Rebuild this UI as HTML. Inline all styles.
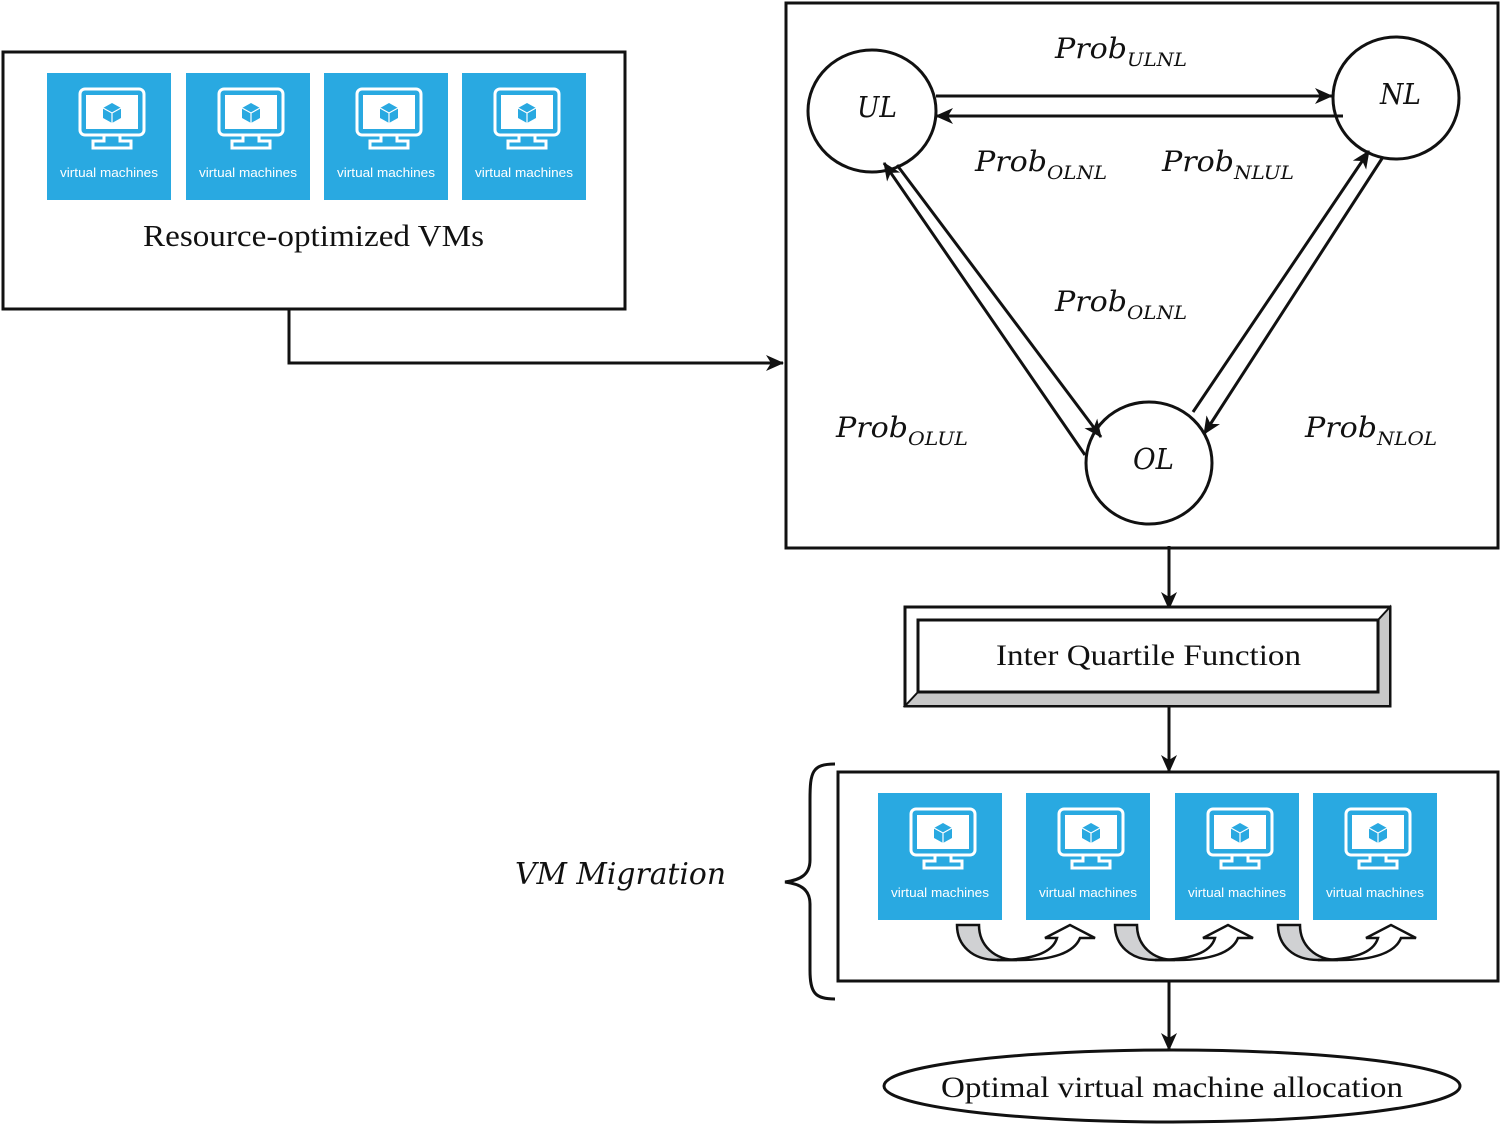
<!DOCTYPE html>
<html><head><meta charset="utf-8"><style>
html,body{margin:0;padding:0;background:#fff;}
svg{display:block}
.s{font-family:"Liberation Serif",serif;fill:#111}
.m{font-family:"DejaVu Serif","Liberation Serif",serif;font-style:italic;fill:#111}
.v{font-family:"Liberation Sans",sans-serif;fill:#fff;font-size:12.5px}
</style></head><body>
<svg width="1500" height="1124" viewBox="0 0 1500 1124" xmlns="http://www.w3.org/2000/svg">
<defs>
<marker id="a" markerWidth="18" markerHeight="16" refX="17" refY="8" orient="auto" markerUnits="userSpaceOnUse">
<path d="M0,0 L18,8 L0,16 L5,8 z" fill="#111"/></marker>
<g id="vm">
<rect x="0" y="0" width="124" height="127" fill="#29a9e1"/>
<rect x="33" y="16" width="64" height="46" rx="5" fill="none" stroke="#fff" stroke-width="3"/>
<rect x="39" y="22" width="52" height="34" fill="#fff"/>
<path d="M65,30 l9,5 v10 l-9,5 l-9,-5 v-10z" fill="#29a9e1"/>
<path d="M56,35 l9,5 l9,-5 M65,40 v10" stroke="#fff" stroke-width="1.2" fill="none"/>
<path d="M57,62 v6 h-11 v7 h38 v-7 h-11 v-6" fill="none" stroke="#fff" stroke-width="3"/>
</g>
<g id="mig">
<path d="M0,0 h22 c0,20 15,35 38,35 h-20 c-25,0 -40,-15 -40,-35z" fill="#d0d1d3" stroke="#111" stroke-width="2.5"/>
<path d="M40,35 c30,0 55,-5 60,-22 h-12 l25,-13 l25,13 h-15 c-6,15 -28,22 -60,22 z" fill="#fff" stroke="#111" stroke-width="2.5"/>
</g>
</defs>
<rect x="3" y="52" width="622" height="257" fill="none" stroke="#111" stroke-width="3"/>
<use href="#vm" x="47" y="73"/><use href="#vm" x="186" y="73"/><use href="#vm" x="324" y="73"/><use href="#vm" x="462" y="73"/>
<text class="v" x="109" y="177" text-anchor="middle" textLength="98" lengthAdjust="spacingAndGlyphs">virtual machines</text>
<text class="v" x="248" y="177" text-anchor="middle" textLength="98" lengthAdjust="spacingAndGlyphs">virtual machines</text>
<text class="v" x="386" y="177" text-anchor="middle" textLength="98" lengthAdjust="spacingAndGlyphs">virtual machines</text>
<text class="v" x="524" y="177" text-anchor="middle" textLength="98" lengthAdjust="spacingAndGlyphs">virtual machines</text>
<text class="s" x="143" y="246" font-size="31" textLength="341" lengthAdjust="spacingAndGlyphs">Resource-optimized VMs</text>
<path d="M289,309 V363 H783" fill="none" stroke="#111" stroke-width="3" marker-end="url(#a)"/>
<rect x="786" y="3" width="712" height="545" fill="none" stroke="#111" stroke-width="3"/>
<ellipse cx="872" cy="111" rx="64" ry="61" fill="#fff" stroke="#111" stroke-width="3"/>
<ellipse cx="1396" cy="98" rx="63" ry="61" fill="#fff" stroke="#111" stroke-width="3"/>
<ellipse cx="1149" cy="463" rx="63" ry="61" fill="#fff" stroke="#111" stroke-width="3"/>
<text class="m" x="857" y="117" font-size="29" textLength="40" lengthAdjust="spacingAndGlyphs">UL</text>
<text class="m" x="1380" y="104" font-size="29" textLength="41" lengthAdjust="spacingAndGlyphs">NL</text>
<text class="m" x="1133" y="469" font-size="29" textLength="41" lengthAdjust="spacingAndGlyphs">OL</text>
<g stroke="#111" stroke-width="3" fill="none">
<line x1="936" y1="96" x2="1332" y2="96" marker-end="url(#a)"/>
<line x1="1343" y1="116" x2="936" y2="116" marker-end="url(#a)"/>
<line x1="897" y1="165" x2="1101" y2="437" marker-end="url(#a)"/>
<line x1="1085" y1="455" x2="884" y2="163" marker-end="url(#a)"/>
<line x1="1383" y1="157" x2="1204" y2="434" marker-end="url(#a)"/>
<line x1="1193" y1="412" x2="1369" y2="151" marker-end="url(#a)"/>
</g>
<g class="m" font-size="28">
<text x="1055" y="58"><tspan textLength="72" lengthAdjust="spacingAndGlyphs">Prob</tspan><tspan font-size="19" dy="8" textLength="60" lengthAdjust="spacingAndGlyphs">ULNL</tspan></text>
<text x="975" y="171"><tspan textLength="72" lengthAdjust="spacingAndGlyphs">Prob</tspan><tspan font-size="19" dy="8" textLength="60" lengthAdjust="spacingAndGlyphs">OLNL</tspan></text>
<text x="1162" y="171"><tspan textLength="72" lengthAdjust="spacingAndGlyphs">Prob</tspan><tspan font-size="19" dy="8" textLength="60" lengthAdjust="spacingAndGlyphs">NLUL</tspan></text>
<text x="1055" y="311"><tspan textLength="72" lengthAdjust="spacingAndGlyphs">Prob</tspan><tspan font-size="19" dy="8" textLength="60" lengthAdjust="spacingAndGlyphs">OLNL</tspan></text>
<text x="836" y="437"><tspan textLength="72" lengthAdjust="spacingAndGlyphs">Prob</tspan><tspan font-size="19" dy="8" textLength="60" lengthAdjust="spacingAndGlyphs">OLUL</tspan></text>
<text x="1305" y="437"><tspan textLength="72" lengthAdjust="spacingAndGlyphs">Prob</tspan><tspan font-size="19" dy="8" textLength="60" lengthAdjust="spacingAndGlyphs">NLOL</tspan></text>
</g>
<line x1="1169" y1="546" x2="1169" y2="609" stroke="#111" stroke-width="3" marker-end="url(#a)"/>
<rect x="905" y="607" width="485" height="99" fill="#fff" stroke="#111" stroke-width="3"/>
<path d="M918,692 L905,706 H1390 V607 L1378,620 V692z" fill="#c8c8c8" stroke="#111" stroke-width="2"/>
<rect x="918" y="620" width="460" height="72" fill="#fff" stroke="#111" stroke-width="3"/>
<text class="s" x="996" y="665" font-size="30" textLength="305" lengthAdjust="spacingAndGlyphs">Inter Quartile Function</text>
<line x1="1169" y1="706" x2="1169" y2="772" stroke="#111" stroke-width="3" marker-end="url(#a)"/>
<rect x="838" y="772" width="660" height="209" fill="none" stroke="#111" stroke-width="3"/>
<use href="#vm" x="878" y="793"/><use href="#vm" x="1026" y="793"/><use href="#vm" x="1175" y="793"/><use href="#vm" x="1313" y="793"/>
<text class="v" x="940" y="897" text-anchor="middle" textLength="98" lengthAdjust="spacingAndGlyphs">virtual machines</text>
<text class="v" x="1088" y="897" text-anchor="middle" textLength="98" lengthAdjust="spacingAndGlyphs">virtual machines</text>
<text class="v" x="1237" y="897" text-anchor="middle" textLength="98" lengthAdjust="spacingAndGlyphs">virtual machines</text>
<text class="v" x="1375" y="897" text-anchor="middle" textLength="98" lengthAdjust="spacingAndGlyphs">virtual machines</text>
<use href="#mig" x="957" y="925"/><use href="#mig" x="1115" y="925"/><use href="#mig" x="1278" y="925"/>
<path d="M835,764 C812,764 810,772 810,800 V860 C810,875 800,880 785,882 C800,884 810,889 810,904 V970 C810,993 815,999 835,999" fill="none" stroke="#111" stroke-width="3"/>
<text class="m" x="515" y="884" font-size="30" textLength="211" lengthAdjust="spacingAndGlyphs">VM Migration</text>
<line x1="1169" y1="981" x2="1169" y2="1050" stroke="#111" stroke-width="3" marker-end="url(#a)"/>
<ellipse cx="1172" cy="1086" rx="288" ry="36" fill="#fff" stroke="#111" stroke-width="3"/>
<text class="s" x="941" y="1097" font-size="30" textLength="462" lengthAdjust="spacingAndGlyphs">Optimal virtual machine allocation</text>
</svg>
</body></html>
